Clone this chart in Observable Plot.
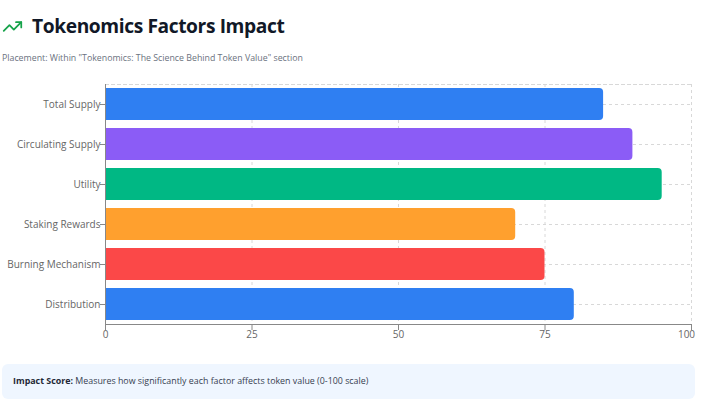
<!DOCTYPE html>
<html><head><meta charset="utf-8">
<script src="https://cdn.jsdelivr.net/npm/d3@7"></script>
<script src="https://cdn.jsdelivr.net/npm/@observablehq/plot@0.6"></script>
<style>
html,body{margin:0;padding:0;background:#fff;width:714px;height:413px;overflow:hidden;font-family:"Open Sans","Noto Sans",sans-serif}
#head{position:absolute;left:2px;top:12px;display:flex;align-items:center;height:28px}
#head h1{margin:0 0 0 9px;font-size:19.2px;letter-spacing:-.4px;line-height:28px;font-weight:700;color:#111827;font-family:"Open Sans",sans-serif}
#sub{position:absolute;left:2px;top:51px;font-size:8.8px;line-height:14px;color:#6b7280}
#chart{position:absolute;left:0;top:74px}
#note{position:absolute;left:2px;top:364px;width:693px;height:35px;box-sizing:border-box;background:#eff6ff;border-radius:6px;padding:0 11px;font-size:8.87px;line-height:35px;color:#374151}
#note b{color:#1f2937;font-weight:700}
</style></head><body>
<div id="head"><svg width="21" height="21" viewBox="0 0 24 24" fill="none" stroke="#16a34a" stroke-width="2" stroke-linecap="round" stroke-linejoin="round"><polyline points="22 7 13.5 15.5 8.5 10.5 2 17"/><polyline points="16 7 22 7 22 13"/></svg><h1>Tokenomics Factors Impact</h1></div>
<div id="sub">Placement: Within "Tokenomics: The Science Behind Token Value" section</div>
<div id="chart"></div>
<div id="note"><b>Impact Score:</b> Measures how significantly each factor affects token value (0-100 scale)</div>
<script>
const factors = ["Total Supply","Circulating Supply","Utility","Staking Rewards","Burning Mechanism","Distribution"];
const scores = [85,90,95,70,75,80];
const colors = ["#2f7ff2","#8b5cf6","#00b884","#ffa02e","#fb4848","#2f7ff2"];
const xTicks = [0,25,50,75,100];
const rows = factors.map((f,i)=>({factor:f,score:scores[i],color:colors[i]}));
const grid = {stroke:"#d8d8d8",strokeWidth:1,strokeDasharray:"3 3",strokeOpacity:1};
const plot = Plot.plot({
  width:714,height:286,
  marginLeft:105,marginRight:23,marginTop:10,marginBottom:36,
  style:{fontFamily:'"Open Sans",sans-serif',fontSize:"10px",color:"#666",background:"transparent",overflow:"visible"},
  x:{domain:[0,100],ticks:xTicks,label:null},
  y:{domain:factors,paddingInner:0.2,paddingOuter:0.1,align:0.5,label:null},
  marks:[
    Plot.ruleX(xTicks,{x:d=>d,...grid}),
    Plot.ruleY(factors,{y:d=>d,...grid}),
    Plot.frame({anchor:"top",...grid}),
    Plot.barX(rows,{y:"factor",x1:0,x2:"score",fill:"color",rx2:4}),
    Plot.axisX(xTicks,{tickSize:6,tickPadding:0,stroke:"#888",fill:"#666",label:null,fontSize:10,tickFormat:d=>d===100?"":d}),
    Plot.axisX(xTicks.slice(-1),{tickSize:0,tickPadding:6,dx:-5,stroke:"none",fill:"#666",label:null,fontSize:10}),
    Plot.ruleX([0],{stroke:"#888",strokeWidth:1}),
    Plot.axisY({tickSize:5,tickPadding:0,stroke:"#888",fill:"#666",label:null,fontSize:10}),
    Plot.frame({anchor:"bottom",stroke:"#888",strokeWidth:1})
  ]
});
document.getElementById("chart").append(plot);
</script>
</body></html>
